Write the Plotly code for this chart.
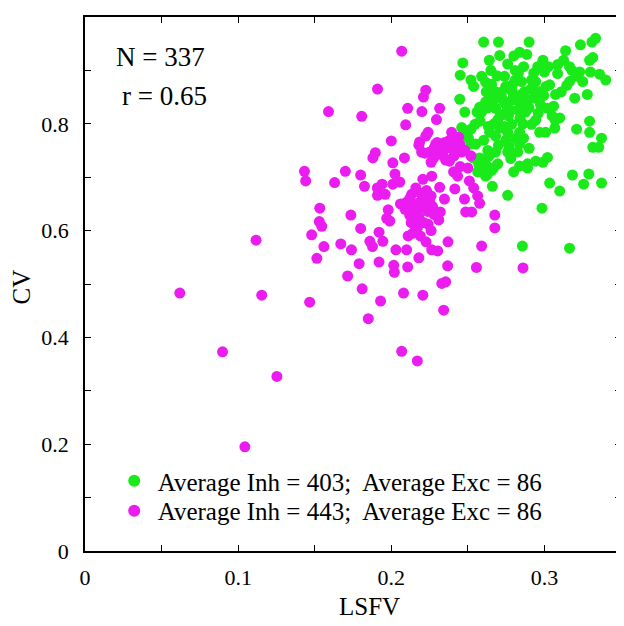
import plotly.graph_objects as go

# Green group: Average Inh = 403
green_x = [0.2603, 0.270, 0.2467, 0.245, 0.252, 0.2538, 0.2447, 0.248, 0.246, 0.247,
           0.2546, 0.256, 0.2577, 0.259, 0.2616, 0.264, 0.265, 0.2655, 0.2668, 0.2681,
           0.2695, 0.2708, 0.272, 0.2734, 0.274, 0.276, 0.2765, 0.2786, 0.280, 0.281,
           0.2825, 0.2838, 0.285, 0.2864, 0.2877, 0.2885, 0.290, 0.2916, 0.293, 0.2943,
           0.2956, 0.2974, 0.299, 0.300, 0.3008, 0.302, 0.3034, 0.306, 0.3073, 0.3086,
           0.310, 0.3125, 0.3138, 0.3146, 0.3164, 0.3198, 0.321, 0.323, 0.3235, 0.325,
           0.328, 0.3295, 0.331, 0.3316, 0.330, 0.3334, 0.336, 0.340, 0.3295, 0.3295,
           0.3316, 0.3355, 0.3373, 0.3373, 0.329, 0.3256, 0.3183, 0.3164, 0.310, 0.3034,
           0.302, 0.299, 0.2984, 0.2856, 0.276, 0.266, 0.277, 0.2799, 0.2838, 0.289,
           0.290, 0.2864, 0.2812, 0.2825, 0.276, 0.2708, 0.2681, 0.264, 0.2616, 0.259,
           0.2616, 0.2668, 0.2695, 0.2681, 0.2564, 0.2551, 0.252, 0.2504, 0.2533, 0.2577,
           0.2634, 0.2603, 0.3068, 0.307, 0.2995, 0.2956, 0.289, 0.2851, 0.273, 0.2695,
           0.266, 0.2616, 0.259, 0.2943, 0.3026, 0.2851, 0.2794, 0.2747, 0.2786, 0.2838,
           0.2916, 0.2969, 0.276, 0.2642, 0.3203, 0.3164, 0.3086, 0.289, 0.2943, 0.2747,
           0.2838, 0.2655, 0.2629, 0.268, 0.275, 0.282, 0.287, 0.271, 0.279, 0.262,
           0.284, 0.290, 0.277,
           0.258, 0.263, 0.267, 0.272, 0.278, 0.283, 0.288, 0.293, 0.297, 0.269,
           0.274, 0.281, 0.286, 0.291, 0.296, 0.301, 0.305, 0.311, 0.318, 0.263,
           0.257, 0.252, 0.270, 0.278]
green_y = [0.953, 0.953, 0.914, 0.891, 0.882, 0.870, 0.846, 0.822, 0.793, 0.777,
           0.799, 0.822, 0.831, 0.889, 0.878, 0.919, 0.900, 0.874, 0.844, 0.829,
           0.807, 0.928, 0.859, 0.841, 0.889, 0.912, 0.815, 0.844, 0.927, 0.882,
           0.826, 0.934, 0.855, 0.907, 0.822, 0.930, 0.953, 0.882, 0.848, 0.807,
           0.907, 0.836, 0.919, 0.897, 0.784, 0.829, 0.873, 0.833, 0.855, 0.894,
           0.811, 0.919, 0.937, 0.872, 0.879, 0.848, 0.790, 0.897, 0.948, 0.879,
           0.855, 0.919, 0.953, 0.924, 0.897, 0.960, 0.893, 0.882, 0.805, 0.784,
           0.756, 0.756, 0.773, 0.689, 0.706, 0.687, 0.704, 0.567, 0.674, 0.689,
           0.737, 0.728, 0.642, 0.571, 0.666, 0.683, 0.758, 0.710, 0.721, 0.725,
           0.754, 0.773, 0.773, 0.747, 0.747, 0.792, 0.777, 0.740, 0.725, 0.710,
           0.702, 0.717, 0.725, 0.747, 0.710, 0.762, 0.762, 0.773, 0.736, 0.736,
           0.795, 0.769, 0.792, 0.807, 0.853, 0.860, 0.844, 0.837, 0.818, 0.850,
           0.850, 0.841, 0.822, 0.879, 0.907, 0.879, 0.874, 0.870, 0.799, 0.784,
           0.799, 0.784, 0.784, 0.784, 0.889, 0.907, 0.911, 0.717, 0.730, 0.769,
           0.762, 0.713, 0.706, 0.860, 0.835, 0.845, 0.860, 0.815, 0.860, 0.860,
           0.810, 0.830, 0.870,
           0.805, 0.830, 0.800, 0.850, 0.825, 0.895, 0.840, 0.895, 0.860, 0.890,
           0.795, 0.900, 0.800, 0.865, 0.820, 0.870, 0.815, 0.860, 0.900, 0.750,
           0.725, 0.790, 0.760, 0.735]

# Magenta group: Average Inh = 443
mag_x = [0.0619, 0.0898, 0.1044, 0.1117, 0.1154, 0.1253, 0.1433, 0.1441, 0.1467, 0.148,
         0.1514, 0.1533, 0.153, 0.1546, 0.156, 0.159, 0.163, 0.167, 0.170, 0.1715,
         0.1736, 0.174, 0.179, 0.1807, 0.180, 0.180, 0.181, 0.1825, 0.185, 0.186,
         0.1877, 0.188, 0.1896, 0.191, 0.1909, 0.191, 0.192, 0.192, 0.193, 0.194,
         0.1945, 0.196, 0.197, 0.198, 0.199, 0.200, 0.201, 0.201, 0.2016, 0.202,
         0.2024, 0.203, 0.2055, 0.2068, 0.2068, 0.208, 0.2086, 0.2094, 0.2094, 0.2107,
         0.2107, 0.210, 0.211, 0.212, 0.2133, 0.214, 0.2154, 0.217, 0.218, 0.2185,
         0.2185, 0.2185, 0.219, 0.2198, 0.220, 0.2206, 0.2206, 0.221, 0.2217, 0.2225,
         0.2225, 0.2227, 0.2238, 0.224, 0.224, 0.225, 0.226, 0.2264, 0.2264, 0.2277,
         0.229, 0.2295, 0.2303, 0.231, 0.2316, 0.2316, 0.232, 0.233, 0.2342, 0.2347,
         0.2355, 0.2355, 0.2368, 0.237, 0.238, 0.2394, 0.2407, 0.2415, 0.242, 0.2433,
         0.246, 0.2478, 0.2486, 0.250, 0.251, 0.2525, 0.2538, 0.2556, 0.2564, 0.2577,
         0.259, 0.2676, 0.2676, 0.286,
         0.215, 0.218, 0.222, 0.225, 0.212, 0.228, 0.219, 0.226, 0.214, 0.221,
         0.209, 0.216, 0.232, 0.236, 0.240, 0.234, 0.228, 0.243, 0.238, 0.245,
         0.230, 0.222, 0.218, 0.248, 0.252, 0.245,
         0.206, 0.223, 0.217, 0.227, 0.213, 0.235, 0.241, 0.244, 0.239, 0.226]
mag_y = [0.483, 0.373, 0.195, 0.582, 0.479, 0.327, 0.711, 0.693, 0.466, 0.592,
         0.548, 0.642, 0.617, 0.608, 0.570, 0.823, 0.690, 0.575, 0.711, 0.515,
         0.629, 0.564, 0.538, 0.814, 0.704, 0.604, 0.491, 0.683, 0.435, 0.580,
         0.570, 0.736, 0.746, 0.865, 0.680, 0.666, 0.597, 0.541, 0.468, 0.687,
         0.580, 0.668, 0.623, 0.639, 0.618, 0.768, 0.727, 0.687, 0.535, 0.522,
         0.706, 0.564, 0.691, 0.936, 0.374, 0.483, 0.736, 0.798, 0.652, 0.829,
         0.532, 0.564, 0.590, 0.629, 0.668, 0.650, 0.609, 0.356, 0.549, 0.766,
         0.653, 0.642, 0.590, 0.747, 0.823, 0.479, 0.696, 0.850, 0.663, 0.863,
         0.777, 0.579, 0.636, 0.612, 0.784, 0.747, 0.665, 0.564, 0.702, 0.736,
         0.762, 0.808, 0.562, 0.620, 0.829, 0.681, 0.635, 0.501, 0.451, 0.659,
         0.504, 0.732, 0.534, 0.579, 0.769, 0.784, 0.710, 0.678, 0.762, 0.702,
         0.747, 0.659, 0.635, 0.717, 0.693, 0.635, 0.680, 0.531, 0.665, 0.651,
         0.571, 0.629, 0.605, 0.530,
         0.640, 0.625, 0.648, 0.655, 0.660, 0.630, 0.670, 0.600, 0.595, 0.615,
         0.640, 0.680, 0.750, 0.755, 0.770, 0.740, 0.755, 0.750, 0.730, 0.760,
         0.765, 0.745, 0.760, 0.750, 0.740, 0.720,
         0.650, 0.675, 0.605, 0.645, 0.615, 0.765, 0.740, 0.775, 0.755, 0.728]

x_tickvals = [0, 0.05, 0.1, 0.15, 0.2, 0.25, 0.3]
x_ticktext = ["0", "", "0.1", "", "0.2", "", "0.3"]
y_tickvals = [0, 0.1, 0.2, 0.3, 0.4, 0.5, 0.6, 0.7, 0.8, 0.9, 1.0]
y_ticktext = ["0", "", "0.2", "", "0.4", "", "0.6", "", "0.8", "", "1"]

GREEN = "#1aea1a"
MAGENTA = "#ea1cf0"
FONT = "Liberation Serif, Times New Roman, DejaVu Serif, serif"

fig = go.Figure()
fig.add_trace(go.Scatter(x=green_x, y=green_y, mode="markers",
                         marker=dict(color=GREEN, size=11, line=dict(width=0)),
                         name="Average Inh = 403;  Average Exc = 86", legend="legend"))
fig.add_trace(go.Scatter(x=mag_x, y=mag_y, mode="markers",
                         marker=dict(color=MAGENTA, size=11, line=dict(width=0)),
                         name="Average Inh = 443;  Average Exc = 86", legend="legend2"))

axis_common = dict(showline=True, linecolor="black", linewidth=1.5, mirror="ticks",
                   ticks="inside", ticklen=6, tickwidth=1.2, tickcolor="black",
                   showgrid=False, zeroline=False, automargin=False,
                   tickfont=dict(family=FONT, size=22, color="black"))

fig.update_xaxes(range=[0, 0.35], tickvals=x_tickvals, ticktext=x_ticktext,
                 ticklabelstandoff=6, **axis_common)
fig.update_yaxes(range=[0, 1], tickvals=y_tickvals, ticktext=y_ticktext,
                 ticklabelstandoff=10, **axis_common)

# axis titles
fig.add_annotation(text="LSFV", xref="paper", yref="paper", x=0.53, y=-0.104,
                   xanchor="center", yanchor="middle", showarrow=False,
                   font=dict(family=FONT, size=25, color="black"))
fig.add_annotation(text="CV", xref="paper", yref="paper", x=-0.118, y=0.495,
                   xanchor="center", yanchor="middle", showarrow=False, textangle=-90,
                   font=dict(family=FONT, size=25, color="black"))

fig.add_annotation(text="N = 337", xref="paper", yref="paper", x=0.054, y=0.925,
                   xanchor="left", yanchor="middle", showarrow=False,
                   font=dict(family=FONT, size=27, color="black"))
fig.add_annotation(text="r = 0.65", xref="paper", yref="paper", x=0.066, y=0.852,
                   xanchor="left", yanchor="middle", showarrow=False,
                   font=dict(family=FONT, size=27, color="black"))

leg_common = dict(xanchor="left", yanchor="middle", bgcolor="rgba(0,0,0,0)",
                  font=dict(family=FONT, size=25, color="black"),
                  itemsizing="constant", itemwidth=37)

# Page body has an 8px margin; compensate so the plot area lands where the reference has it.
fig.update_layout(
    width=616, height=618,
    margin=dict(l=77, r=3, t=9, b=75),
    paper_bgcolor="white", plot_bgcolor="white",
    showlegend=True,
    legend=dict(x=0.048, y=0.131, **leg_common),
    legend2=dict(x=0.048, y=0.075, **leg_common),
)

fig.write_html("out.html")
